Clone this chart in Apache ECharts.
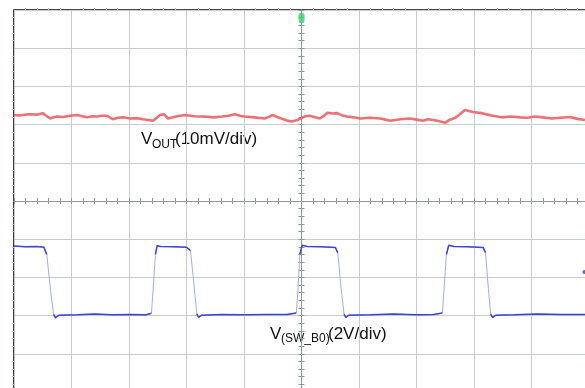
<!DOCTYPE html>
<html>
<head>
<meta charset="utf-8">
<title>VOUT ripple / SW waveform</title>
<script src="https://cdn.jsdelivr.net/npm/echarts@6/dist/echarts.min.js"></script>
<style>
  html, body { margin: 0; padding: 0; background: #fff; }
  #main { width: 585px; height: 388px; }
</style>
</head>
<body>
<div id="main"></div>
<script>
// all values in screen divisions, centre of the screen = (0, 0)
var vout = [
  [-5.00, 2.25], [-4.90, 2.24], [-4.81, 2.26], [-4.72, 2.27], [-4.60, 2.26], [-4.50, 2.30],
  [-4.43, 2.22], [-4.37, 2.16], [-4.31, 2.19], [-4.25, 2.21], [-4.14, 2.20], [-4.03, 2.23],
  [-3.90, 2.25], [-3.81, 2.22], [-3.73, 2.19], [-3.64, 2.22], [-3.56, 2.21], [-3.47, 2.23],
  [-3.38, 2.23], [-3.28, 2.14], [-3.19, 2.18], [-3.10, 2.19], [-2.98, 2.16], [-2.87, 2.17],
  [-2.76, 2.14], [-2.67, 2.12], [-2.58, 2.10], [-2.46, 2.25], [-2.39, 2.27], [-2.32, 2.16],
  [-2.18, 2.21], [-2.03, 2.25], [-1.86, 2.22], [-1.68, 2.21], [-1.53, 2.19], [-1.38, 2.21],
  [-1.27, 2.23], [-1.16, 2.27], [-1.07, 2.23], [-0.99, 2.21], [-0.82, 2.19], [-0.64, 2.16],
  [-0.56, 2.21], [-0.50, 2.25], [-0.42, 2.20], [-0.35, 2.16], [-0.25, 2.11], [-0.17, 2.08],
  [-0.07, 2.12], [0.05, 2.21], [0.14, 2.23], [0.24, 2.19], [0.32, 2.16], [0.40, 2.24],
  [0.45, 2.31], [0.54, 2.29], [0.62, 2.30], [0.71, 2.24], [0.79, 2.21], [0.91, 2.19],
  [1.02, 2.16], [1.20, 2.18], [1.37, 2.16], [1.46, 2.13], [1.54, 2.10], [1.72, 2.14],
  [1.89, 2.16], [2.00, 2.13], [2.11, 2.10], [2.20, 2.14], [2.29, 2.12], [2.40, 2.09],
  [2.50, 2.05], [2.58, 2.13], [2.67, 2.17], [2.76, 2.28], [2.84, 2.38], [2.98, 2.33],
  [3.13, 2.30], [3.30, 2.24], [3.48, 2.19], [3.64, 2.21], [3.80, 2.19], [3.93, 2.18],
  [4.06, 2.21], [4.20, 2.19], [4.35, 2.16], [4.51, 2.18], [4.67, 2.20], [4.80, 2.15],
  [4.93, 2.12]
];
var vsw = [
  [-5.00, -1.18], [-4.80, -1.20], [-4.60, -1.19], [-4.48, -1.21], [-4.43, -1.40],
  [-4.36, -2.40], [-4.31, -2.97], [-4.28, -3.06], [-4.22, -2.99], [-3.90, -2.98],
  [-3.60, -2.96], [-3.30, -2.98], [-3.00, -2.97], [-2.70, -2.98], [-2.61, -2.94],
  [-2.58, -2.30], [-2.54, -1.40], [-2.51, -1.17], [-2.45, -1.19], [-2.20, -1.20],
  [-2.00, -1.21], [-1.93, -1.30], [-1.87, -2.20], [-1.82, -2.95], [-1.79, -3.05],
  [-1.74, -2.99], [-1.40, -2.97], [-1.00, -2.98], [-0.60, -2.97], [-0.25, -2.97],
  [-0.09, -2.93], [-0.06, -2.30], [-0.03, -1.40], [0.01, -1.16], [0.10, -1.19],
  [0.35, -1.20], [0.59, -1.22], [0.63, -1.35], [0.69, -2.30], [0.74, -2.96],
  [0.77, -3.05], [0.82, -2.99], [1.20, -2.98], [1.60, -2.96], [2.00, -2.98],
  [2.30, -2.97], [2.45, -2.93], [2.48, -2.30], [2.52, -1.40], [2.56, -1.16],
  [2.65, -1.19], [2.90, -1.20], [3.16, -1.22], [3.20, -1.35], [3.25, -2.30],
  [3.29, -2.96], [3.32, -3.05], [3.38, -2.99], [3.70, -2.98], [4.10, -2.96],
  [4.50, -2.97], [5.00, -2.97]
];
var trigMark = [[0.0, 4.79]];
var levelMark = [[4.92, -1.86]];

// flat parts of the switch node trace (edges are drawn fainter, like the scope)
var vswFlat = [];
for (var i = 0; i < vsw.length; i++) {
  if (i > 0 && Math.abs(vsw[i][1] - vsw[i - 1][1]) > 0.5) {
    vswFlat.push([vsw[i][0], '-']);
  }
  vswFlat.push(vsw[i]);
}

var gridCol = '#c6cdcd';
var centreCol = '#8f9b9b';

function centreAxis(pos) {
  return {
    type: 'value', min: -5, max: 5, interval: 1, position: pos,
    axisLine: { show: true, onZero: true, lineStyle: { color: centreCol, width: 1 } },
    axisTick: { show: true, length: 3, lineStyle: { color: centreCol } },
    minorTick: { show: true, splitNumber: 5, length: 3, lineStyle: { color: centreCol } },
    axisLabel: { show: false },
    splitLine: { show: false }
  };
}
function edgeAxis(pos, col) {
  return {
    type: 'value', min: -5, max: 5, interval: 1, position: pos,
    axisLine: { show: false, onZero: false },
    axisTick: { show: false },
    minorTick: { show: true, splitNumber: 5, length: 2, lineStyle: { color: col } },
    axisLabel: { show: false }, splitLine: { show: false }
  };
}

var xMain = centreAxis('bottom');
xMain.splitLine = { show: true, lineStyle: { color: gridCol, width: 1 } };
var yMain = centreAxis('left');
yMain.splitLine = { show: true, lineStyle: { color: gridCol, width: 1 } };

var myChart = echarts.init(document.getElementById('main'));
var option = {
  animation: false,
  backgroundColor: '#fff',
  grid: {
    show: true, left: 14, top: 10, width: 575, height: 382,
    outerBoundsMode: 'none', containLabel: false,
    borderColor: '#111', borderWidth: 1.6, backgroundColor: '#fff'
  },
  xAxis: [xMain, centreAxis('top'), edgeAxis('top', '#eba5a5')],
  yAxis: [yMain, centreAxis('right'), edgeAxis('left', '#b8c0c0')],
  series: [
    {
      name: 'VOUT', type: 'line', data: vout, showSymbol: false,
      lineStyle: { color: '#e9585d', width: 2.6, opacity: 0.85 }
    },
    {
      name: 'VSW edges', type: 'line', data: vsw, showSymbol: false,
      lineStyle: { color: '#a7abe9', width: 1 }
    },
    {
      name: 'VSW', type: 'line', data: vswFlat, showSymbol: false, connectNulls: false,
      lineStyle: { color: '#3b46d6', width: 1.5 }
    },
    {
      type: 'scatter', data: trigMark, symbol: 'roundRect', symbolSize: [6, 10],
      itemStyle: { color: '#34d36c' }
    },
    {
      type: 'scatter', data: levelMark, symbol: 'circle', symbolSize: 4,
      itemStyle: { color: '#3b46d6' }
    }
  ],
  graphic: [
    { type: 'text', left: 141, top: 131, style: { text: 'V', font: '17px "Liberation Sans", Arial', fill: '#111' } },
    { type: 'text', left: 152, top: 139, style: { text: 'OUT', font: '12px "Liberation Sans", Arial', fill: '#111' } },
    { type: 'text', left: 175, top: 131, style: { text: '(10mV/div)', font: '17px "Liberation Sans", Arial', fill: '#111' } },
    { type: 'text', left: 270, top: 326, style: { text: 'V', font: '17px "Liberation Sans", Arial', fill: '#111' } },
    { type: 'text', left: 281, top: 333, style: { text: '(SW_B0)', font: '12px "Liberation Sans", Arial', fill: '#111' } },
    { type: 'text', left: 328, top: 326, style: { text: '(2V/div)', font: '17px "Liberation Sans", Arial', fill: '#111' } }
  ]
};
myChart.setOption(option);
</script>
</body>
</html>
